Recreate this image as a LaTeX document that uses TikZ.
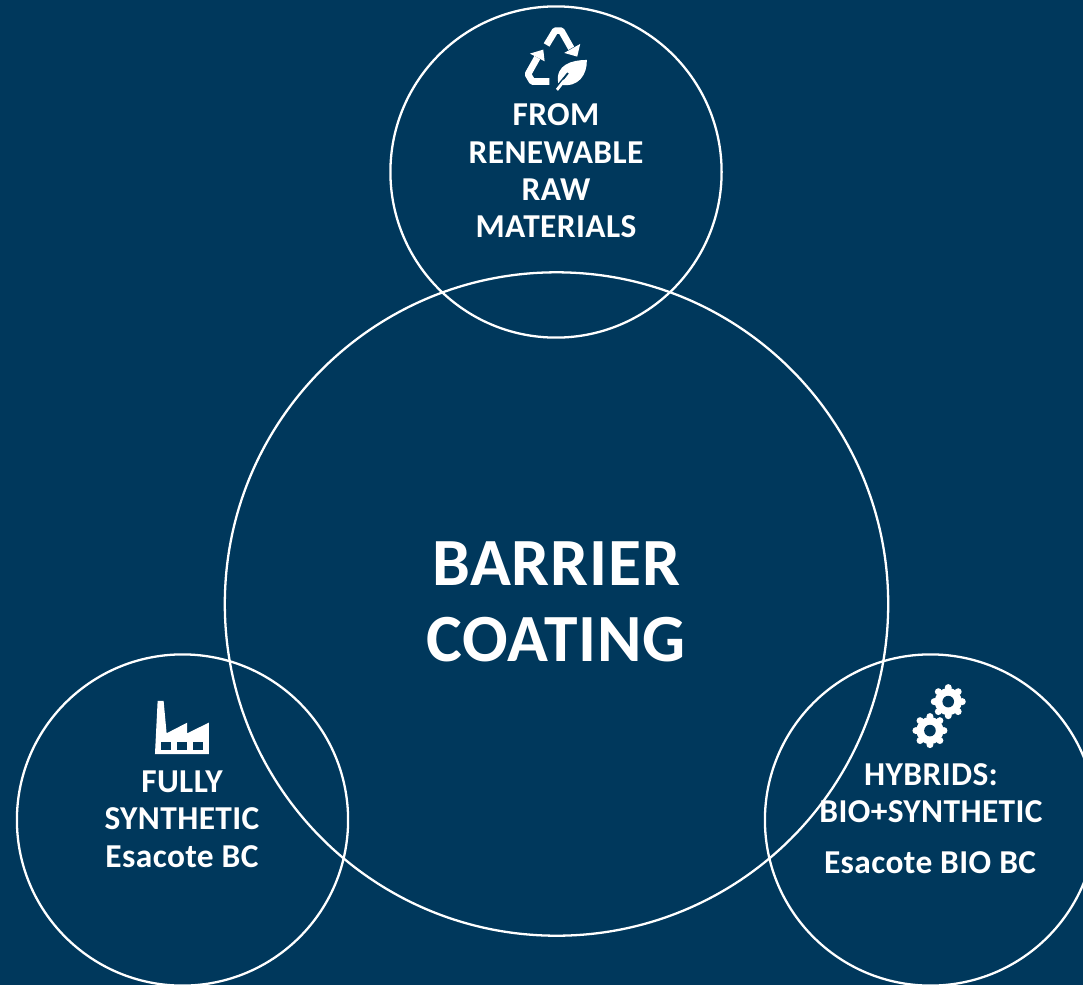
\documentclass[tikz,border=0pt]{standalone}
\usepackage{fontspec}
\setmainfont{Carlito}[LetterSpace=1.2]
\definecolor{navy}{HTML}{00385C}
\begin{document}
\begin{tikzpicture}[x=0.01cm,y=-0.01cm]
   \tikzstyle{ring}=[circle, draw=white, line width=0.65pt, inner sep=0pt]
   \tikzstyle{small}=[ring, minimum size=3.31cm]
   \tikzstyle{big}=[ring, minimum size=6.63cm]
   \tikzstyle{caption}=[text=white, align=center, font=\fontsize{9.5}{10.6}\selectfont\bfseries]
   \tikzstyle{title}=[text=white, align=center, font=\fontsize{19.2}{21.5}\selectfont\bfseries]
   \useasboundingbox (0,0) rectangle (1083,985);
   \fill[navy] (0,0) rectangle (1083,985);
   \clip (0,0) rectangle (1083,985);
   \node[big] (core) at (556.5,604) {};
   \node[small] (renewable) at (556,172) {};
   \node[small] (synthetic) at (182.5,820) {};
   \node[small] (hybrid) at (930.5,820) {};
   \node[title] (barrier) at (556,602) {BARRIER\\COATING};
   \node[caption] (renewabletext) at (556,171) {FROM\\RENEWABLE\\RAW\\MATERIALS};
   \node[caption] (synthetictext) at (182,819) {FULLY\\SYNTHETIC\\Esacote BC};
   \node[caption] (hybridtext) at (931,793) {HYBRIDS:\\BIO+SYNTHETIC};
   \node[caption] (esacotebio) at (930,863) {Esacote BIO BC};
   % recycling icon
   \begin{scope}[shift={(500,15)},x=0.00333cm,y=-0.00333cm]
      \draw[white,line width=1.9pt,line join=round] (140,90) -- (166,47) -- (184,47) -- (214,100);
      \fill[white] (241,87) -- (232,125) -- (193,114) -- cycle;
      \draw[white,line width=1.9pt,line join=round] (112,128) -- (84,178) -- (97,200) -- (148,200);
      \fill[white] (130,104) -- (90,116) -- (134,139) -- cycle;
      \fill[white] (261,135) .. controls (215,135) and (165,150) .. (175,205) -- (202,172) -- (207,176) -- (181,209) .. controls (235,220) and (262,180) .. (261,135) -- cycle;
      \fill[white] (168,222) -- (190,194) -- (197,199) -- (174,228) -- cycle;
   \end{scope}
   % factory icon
   \begin{scope}[shift={(130,690)},x=0.00333cm,y=-0.00333cm]
      \fill[white] (83,33) -- (101,33) -- (110,130) -- (172,98) -- (172,130) -- (237,98) -- (237,193) -- (75,193) -- cycle;
      \foreach \x in {94,142,190} {
         \fill[navy] (\x,156) rectangle +(28,23);
      }
   \end{scope}
   % gears icon
   \begin{scope}[shift={(890,675)},x=0.00333cm,y=-0.00333cm]
      \foreach \cx/\cy in {175/80,120/167} {
         \fill[white] (\cx,\cy) circle[radius=0.135cm];
         \foreach \a in {0,45,...,315} {
            \fill[white] ([shift={(\a:0.14cm)}]\cx,\cy) circle[radius=0.035cm];
         }
         \fill[navy] (\cx,\cy) circle[radius=0.058cm];
      }
   \end{scope}
\end{tikzpicture}
\end{document}
